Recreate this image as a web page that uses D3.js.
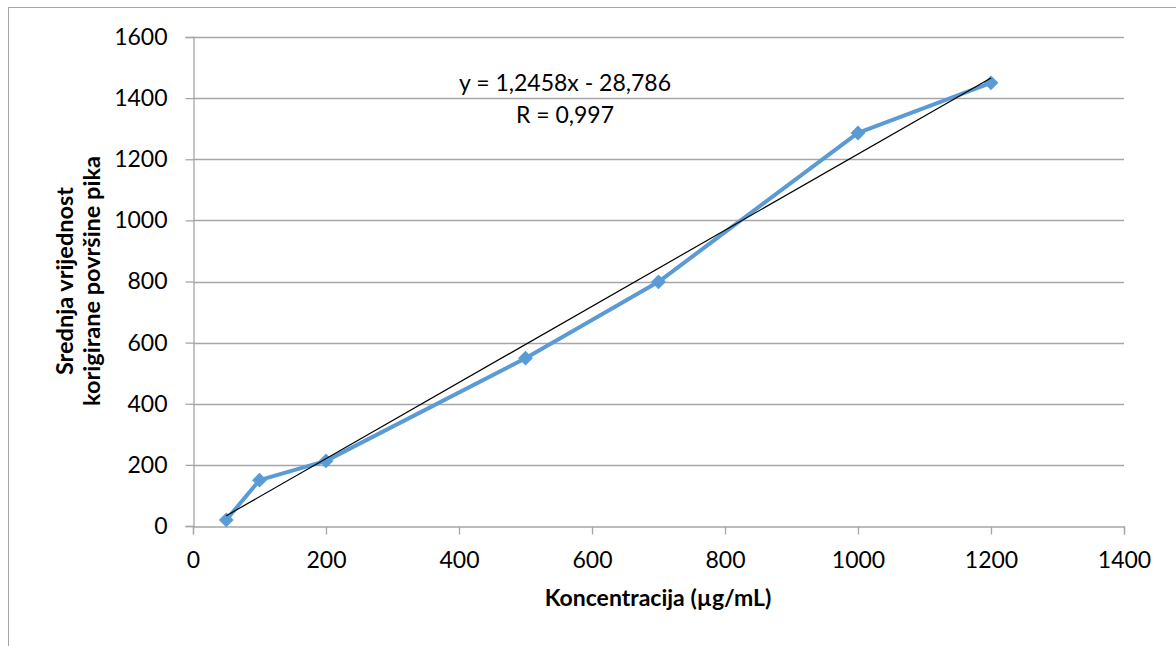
<!DOCTYPE html>
<html>
<head>
<meta charset="utf-8">
<script src="https://cdn.jsdelivr.net/npm/d3@7"></script>
<style>
  body { margin: 0; background: #fff; }
  svg { display: block; font-family: Lato, "Open Sans", sans-serif; }
</style>
</head>
<body>
<svg id="chart" width="1176" height="646"></svg>
<script>
// data
const concentrations = [50, 100, 200, 500, 700, 1000, 1200];
const meanAreas = [20, 150, 213, 549, 799, 1286, 1450];
const xTicks = [0, 200, 400, 600, 800, 1000, 1200, 1400];
const yTicks = [0, 200, 400, 600, 800, 1000, 1200, 1400, 1600];
const trendSlope = 1.2458;
const trendIntercept = -28.786;
const trendLabels = ["y = 1,2458x - 28,786", "R = 0,997"];

const width = 1176;
const height = 646;
const margin = { top: 37, right: 52, bottom: 120, left: 193 };

const svg = d3.select("#chart");

// outer frame (only top and left edges are visible)
svg.append("line")
  .attr("x1", 8).attr("y1", 7.5).attr("x2", width).attr("y2", 7.5)
  .attr("stroke", "#a6a6a6").attr("stroke-width", 1);
svg.append("line")
  .attr("x1", 8.5).attr("y1", 7).attr("x2", 8.5).attr("y2", height)
  .attr("stroke", "#a6a6a6").attr("stroke-width", 1);

const x = d3.scaleLinear()
  .domain([0, 1400])
  .range([margin.left, width - margin.right]);

const y = d3.scaleLinear()
  .domain([0, 1600])
  .range([height - margin.bottom, margin.top]);

// horizontal gridlines
svg.append("g")
  .selectAll("line")
  .data(yTicks.filter((d) => d > 0))
  .enter()
  .append("line")
  .attr("x1", x(0))
  .attr("x2", x(1400))
  .attr("y1", (d) => Math.round(y(d)) + 0.5)
  .attr("y2", (d) => Math.round(y(d)) + 0.5)
  .attr("stroke", "#a6a6a6")
  .attr("stroke-width", 1.3);

// x axis
const xAxis = svg.append("g")
  .attr("transform", `translate(0,${Math.round(y(0)) + 0.5})`)
  .call(d3.axisBottom(x).tickValues(xTicks).tickSize(8).tickPadding(17).tickFormat(d3.format("d")));

// y axis
const yAxis = svg.append("g")
  .attr("transform", `translate(${Math.round(x(0)) + 0.5},0)`)
  .call(d3.axisLeft(y).tickValues(yTicks).tickSize(8).tickPadding(18).tickFormat(d3.format("d")));

[xAxis, yAxis].forEach((g) => {
  g.select(".domain").attr("stroke", "#a6a6a6").attr("stroke-width", 1.3);
  g.selectAll(".tick line").attr("stroke", "#a6a6a6").attr("stroke-width", 1.3);
  g.selectAll(".tick text")
    .attr("fill", "#000")
    .attr("font-size", "23px")
    .attr("font-family", "Lato, 'Open Sans', sans-serif");
});

// data series
const line = d3.line()
  .x((d, i) => x(concentrations[i]))
  .y((d) => y(d));

svg.append("path")
  .datum(meanAreas)
  .attr("fill", "none")
  .attr("stroke", "#5b9bd5")
  .attr("stroke-width", 4)
  .attr("stroke-linejoin", "round")
  .attr("d", line);

svg.append("g")
  .selectAll("path")
  .data(meanAreas)
  .enter()
  .append("path")
  .attr("d", d3.symbol().type(d3.symbolDiamond2).size(140))
  .attr("transform", (d, i) => `translate(${x(concentrations[i])},${y(d)})`)
  .attr("fill", "#5b9bd5");

// linear trendline
const xMin = d3.min(concentrations);
const xMax = d3.max(concentrations);
svg.append("line")
  .attr("x1", x(xMin))
  .attr("y1", y(trendSlope * xMin + trendIntercept))
  .attr("x2", x(xMax))
  .attr("y2", y(trendSlope * xMax + trendIntercept))
  .attr("stroke", "#000")
  .attr("stroke-width", 1.2);

// trendline label
svg.append("g")
  .selectAll("text")
  .data(trendLabels)
  .enter()
  .append("text")
  .attr("x", 565)
  .attr("y", (d, i) => 91 + i * 32)
  .attr("text-anchor", "middle")
  .attr("font-size", "23px")
  .text((d) => d);

// axis titles
svg.append("text")
  .attr("x", 658)
  .attr("y", 606)
  .attr("text-anchor", "middle")
  .attr("font-size", "23px")
  .attr("font-weight", "bold")
  .text("Koncentracija (µg/mL)");

const yTitle = svg.append("text")
  .attr("transform", "translate(73,281) rotate(-90)")
  .attr("text-anchor", "middle")
  .attr("font-size", "23.5px")
  .attr("font-weight", "bold");
yTitle.append("tspan").attr("x", 0).attr("dy", 0).text("Srednja vrijednost");
yTitle.append("tspan").attr("x", 0).attr("dy", 27).text("korigirane površine pika");
</script>
</body>
</html>
